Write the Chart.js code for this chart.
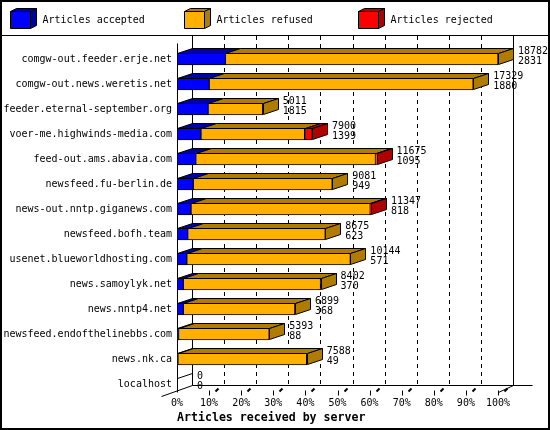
<!DOCTYPE html>
<html>
<head>
<meta charset="utf-8">
<script src="https://cdn.jsdelivr.net/npm/chart.js@4/dist/chart.umd.min.js"></script>
<style>
    body { margin: 0; background: #fff; }
    canvas { display: block; }
</style>
</head>
<body>
<canvas id="graph1" width="550" height="430"></canvas>
<script>
let servers = [
    'comgw-out.feeder.erje.net',
    'comgw-out.news.weretis.net',
    'feeder.eternal-september.org',
    'voer-me.highwinds-media.com',
    'feed-out.ams.abavia.com',
    'newsfeed.fu-berlin.de',
    'news-out.nntp.giganews.com',
    'newsfeed.bofh.team',
    'usenet.blueworldhosting.com',
    'news.samoylyk.net',
    'news.nntp4.net',
    'newsfeed.endofthelinebbs.com',
    'news.nk.ca',
    'localhost'
];
let totals   = [18782, 17329, 5011, 7900, 11675, 9081, 11347, 8675, 10144, 8402, 6899, 5393, 7588, 0];
let accepted = [2831, 1880, 1815, 1399, 1095, 949, 818, 623, 571, 370, 368, 88, 49, 0];
let refused  = [15951, 15449, 3196, 6071, 10520, 8132, 10489, 8052, 9573, 8032, 6531, 5305, 7539, 0];
let rejected = [0, 0, 0, 430, 60, 0, 40, 0, 0, 0, 0, 0, 0, 0];
let tickLabels = ['0%', '10%', '20%', '30%', '40%', '50%', '60%', '70%', '80%', '90%', '100%'];

const FONT = '"DejaVu Sans Mono", "Liberation Mono", monospace';
const DX = 15;
const DY = 5;
const frontColors = ['#0000ff', '#ffb000', '#ff0000'];
const darkColors = ['#0000a8', '#b07c00', '#b00000'];

let maxTotal = Math.max.apply(null, totals);

function toPercent(arr) {
    return arr.map(function (v) { return v > 0 ? v / maxTotal * 100 : null; });
}

function face(ctx, pts, fill) {
    ctx.beginPath();
    ctx.moveTo(pts[0][0], pts[0][1]);
    for (let k = 1; k < pts.length; k++) {
        ctx.lineTo(pts[k][0], pts[k][1]);
    }
    ctx.closePath();
    ctx.fillStyle = fill;
    ctx.fill();
    ctx.stroke();
}

function line(ctx, x1, y1, x2, y2) {
    ctx.beginPath();
    ctx.moveTo(x1, y1);
    ctx.lineTo(x2, y2);
    ctx.stroke();
}

// back wall, floor and the 3d faces of the bars
let box3d = {
    id: 'box3d',
    beforeDatasetsDraw: function (chart) {
        let ctx = chart.ctx;
        let xs = chart.scales.x;
        let ys = chart.scales.y;
        let base = Math.round(ys.getPixelForValue(servers.length - 1) + 6) + 0.5;
        let back = base - DY;
        let x0 = Math.round(xs.getPixelForValue(0)) + 0.5;
        let x100 = Math.round(xs.getPixelForValue(100)) + 0.5;
        ctx.save();
        ctx.strokeStyle = '#000';
        ctx.lineWidth = 1;
        ctx.setLineDash([4, 4]);
        for (let v = 10; v < 100; v += 10) {
            let x = Math.round(xs.getPixelForValue(v)) + DX + 0.5;
            line(ctx, x, 36, x, back);
        }
        ctx.setLineDash([]);
        line(ctx, x0 + DX, 35, x0 + DX, back);
        line(ctx, x100 + DX, 35, x100 + DX, back);
        line(ctx, x0 + DX, back, x100 + DX + 19, back);
        line(ctx, x0 - DX - 1, base + DY + 1, x0 + DX, back);
        line(ctx, x100, base + 2, x100 + DX, back);
        line(ctx, x0, chart.chartArea.top - 3, x0, base + 2);
        for (let v = 10; v <= 100; v += 10) {
            let x = Math.round(xs.getPixelForValue(v)) + 0.5;
            line(ctx, x, base, x, base + 5);
            ctx.lineWidth = 2;
            line(ctx, x + 6, base + 1, x + 9, base - 2);
            ctx.lineWidth = 1;
        }
        ctx.restore();
    },
    afterDatasetsDraw: function (chart) {
        let ctx = chart.ctx;
        let xs = chart.scales.x;
        ctx.save();
        ctx.strokeStyle = '#000';
        ctx.lineWidth = 1;
        for (let i = 0; i < servers.length; i++) {
            let last = null;
            let top = null, bottom = null;
            for (let d = 0; d < chart.data.datasets.length; d++) {
                let el = chart.getDatasetMeta(d).data[i];
                if (chart.data.datasets[d].data[i] === null) continue;
                let p = el.getProps(['x', 'y', 'base', 'height'], true);
                top = Math.round(p.y - p.height / 2) + 0.5;
                bottom = Math.round(p.y + p.height / 2) - 0.5;
                let x1 = Math.round(p.base) + 0.5;
                let x2 = Math.round(p.x) + 0.5;
                face(ctx, [[x1, top], [x1 + DX, top - DY], [x2 + DX, top - DY], [x2, top]], darkColors[d]);
                last = {x: x2, d: d};
            }
            let yc = chart.scales.y.getPixelForValue(i);
            if (last) {
                face(ctx, [[last.x, top], [last.x + DX, top - DY], [last.x + DX, bottom - DY], [last.x, bottom]], darkColors[last.d]);
            } else {
                let x0 = Math.round(xs.getPixelForValue(0)) + 0.5;
                top = Math.round(yc - 6) + 0.5;
                line(ctx, x0, top, x0 + DX, top - DY);
                line(ctx, x0, top, x0, top + 12);
            }
            let endX = xs.getPixelForValue(totals[i] / maxTotal * 100) + DX + 5;
            ctx.fillStyle = '#000';
            ctx.font = '10px ' + FONT;
            ctx.textAlign = 'left';
            ctx.textBaseline = 'middle';
            ctx.fillText(String(totals[i]), endX, yc - 8);
            ctx.fillText(String(accepted[i]), endX, yc + 2);
        }
        ctx.restore();
    },
    afterDraw: function (chart) {
        let ctx = chart.ctx;
        ctx.save();
        ctx.strokeStyle = '#000';
        ctx.lineWidth = 1;
        line(ctx, 0, 35.5, 550, 35.5);
        ctx.lineWidth = 2;
        ctx.strokeRect(1, 1, 548, 428);
        ctx.lineWidth = 1;
        // legend with small boxes
        chart.data.datasets.forEach(function (ds, d) {
            let x = 10.5 + d * 174;
            let y = 11.5;
            face(ctx, [[x, y], [x + 6, y - 3], [x + 26, y - 3], [x + 20, y]], darkColors[d]);
            face(ctx, [[x + 20, y], [x + 26, y - 3], [x + 26, y + 14], [x + 20, y + 17]], darkColors[d]);
            face(ctx, [[x, y], [x + 20, y], [x + 20, y + 17], [x, y + 17]], frontColors[d]);
            ctx.fillStyle = '#000';
            ctx.font = '10px ' + FONT;
            ctx.textAlign = 'left';
            ctx.textBaseline = 'middle';
            ctx.fillText(ds.label, x + 32, 20);
        });
        ctx.restore();
    }
};

let ctx = document.getElementById('graph1').getContext('2d');

let data = {
    labels: servers,
    datasets: [
        {label: 'Articles accepted', data: toPercent(accepted), backgroundColor: frontColors[0]},
        {label: 'Articles refused', data: toPercent(refused), backgroundColor: frontColors[1]},
        {label: 'Articles rejected', data: toPercent(rejected), backgroundColor: frontColors[2]}
    ]
};
data.datasets.forEach(function (ds) {
    ds.borderColor = '#000';
    ds.borderWidth = 1;
    ds.borderSkipped = false;
    ds.barThickness = 12;
});

let options = {
    indexAxis: 'y',
    responsive: false,
    animation: false,
    devicePixelRatio: 1,
    layout: {padding: {top: 46.5, right: 52, bottom: 0, left: 0}},
    plugins: {legend: {display: false}, tooltip: {enabled: false}},
    scales: {
        x: {
            stacked: true,
            min: 0,
            max: 100,
            grid: {display: false, drawTicks: false},
            border: {display: false},
            ticks: {
                stepSize: 10,
                padding: 1,
                color: '#000',
                font: {family: FONT, size: 10},
                maxRotation: 0,
                autoSkip: false,
                callback: function (v, idx) { return tickLabels[idx]; }
            },
            title: {
                display: true,
                text: 'Articles received by server',
                align: 'start',
                color: '#000',
                font: {family: FONT, size: 11.6, weight: 'bold'},
                padding: {top: 0, bottom: 5}
            },
            afterFit: function (scale) { scale.height = 33.5; }
        },
        y: {
            stacked: true,
            grid: {display: false, drawTicks: false},
            border: {display: false},
            ticks: {
                padding: 5,
                color: '#000',
                font: {family: FONT, size: 10},
                autoSkip: false
            },
            afterFit: function (scale) { scale.width = 177; }
        }
    }
};

let config = {
    type: 'bar',
    data: data,
    options: options,
    plugins: [box3d]
};

let graph1 = new Chart(ctx, config);
</script>
</body>
</html>
